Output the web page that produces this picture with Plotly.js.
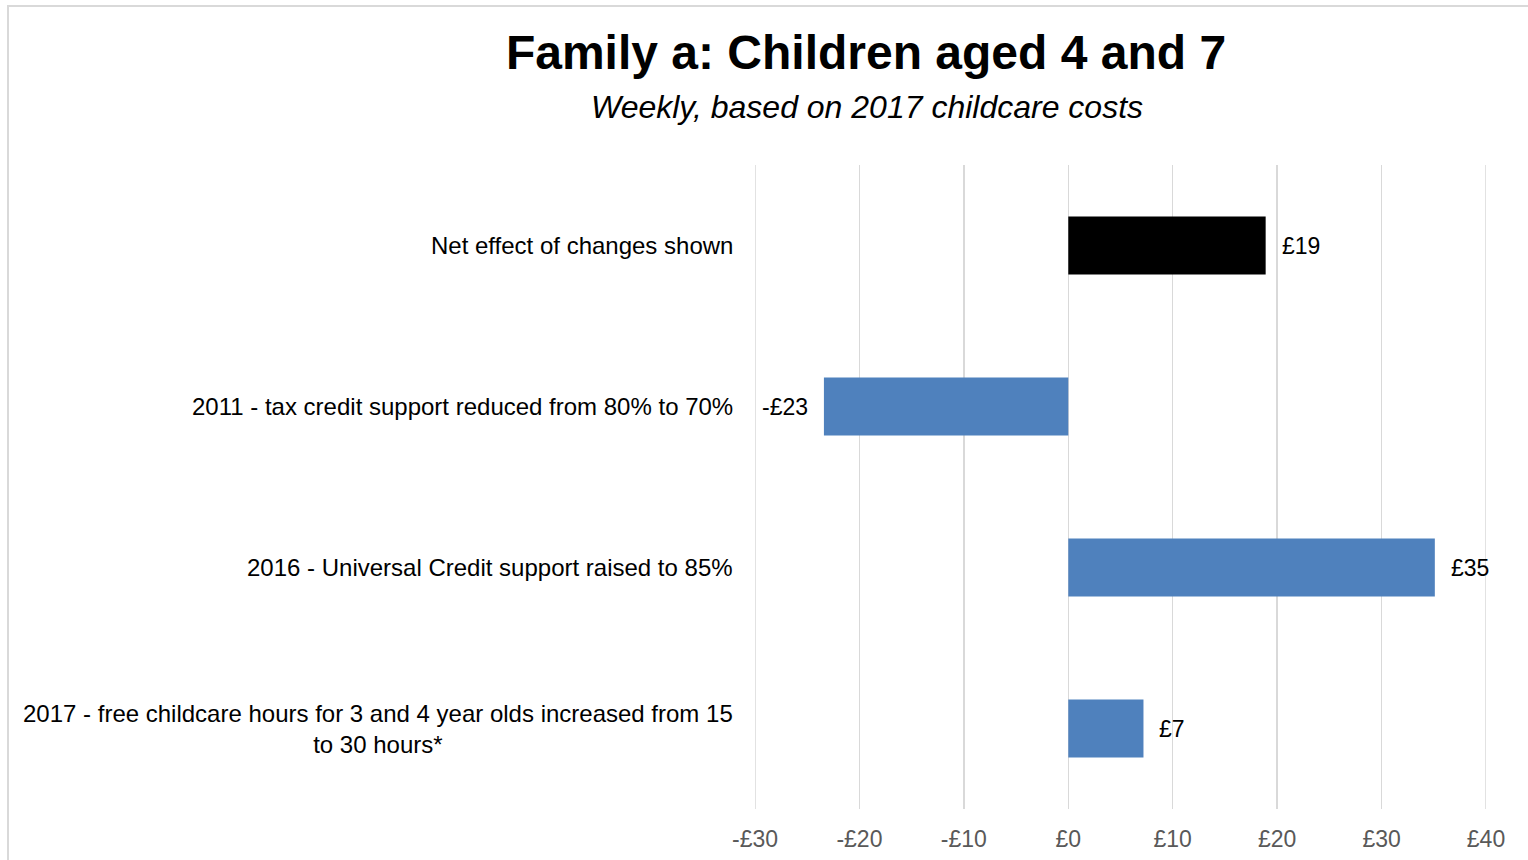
<!DOCTYPE html>
<html><head><meta charset="utf-8">
<script src="https://cdn.plot.ly/plotly-3.0.1.min.js"></script>
<style>body{margin:0;background:#fff}#c{width:1528px;height:860px}</style>
</head><body><div id="c"></div>
<script>
var categories = ["Net effect of changes shown",
  "2011 - tax credit support reduced from 80% to 70%",
  "2016 - Universal Credit support raised to 85%",
  "2017 - free childcare hours for 3 and 4 year olds increased from 15<br>to 30 hours*"];
var values = [18.9, -23.4, 35.1, 7.2];
var valueLabels = ["£19", "-£23", "£35", "£7"];
var barColors = ["#000000", "#4f81bd", "#4f81bd", "#4f81bd"];
var tickVals = [-30, -20, -10, 0, 10, 20, 30, 40];
var tickText = ["-£30", "-£20", "-£10", "£0", "£10", "£20", "£30", "£40"];

var FONT = "Liberation Sans, Arial, sans-serif";
var ann = [];
categories.forEach(function(c, i){
  ann.push({xref:'paper', yref:'y', x:0, y:c, xanchor:'right', yanchor:'middle',
    xshift:-20, text:c, showarrow:false, align:'center',
    font:{family:FONT, size:24, color:'#000'}});
  var pos = values[i] >= 0;
  ann.push({xref:'x', yref:'y', x:values[i], y:c, xanchor:pos?'left':'right', yanchor:'middle',
    xshift:pos?14:-14, text:valueLabels[i], showarrow:false,
    font:{family:FONT, size:23, color:'#000'}});
});
ann.push({xref:'paper', yref:'paper', x:(867-755)/731, y:(809-107)/644, xanchor:'center', yanchor:'middle',
  text:'<i>Weekly, based on 2017 childcare costs</i>', showarrow:false,
  font:{family:FONT, size:32, color:'#000'}});

var data = [{type:'bar', orientation:'h', y:categories, x:values,
  marker:{color:barColors, line:{width:0}}, hoverinfo:'none'}];

var shapes = [{type:'rect', xref:'paper', yref:'paper', x0:(8-755)/731, x1:(1540-755)/731,
    y0:(809-880)/644, y1:(809-6)/644, line:{color:'#d9d9d9', width:2}, fillcolor:'rgba(0,0,0,0)', layer:'below'}];
[tickVals[0], tickVals[tickVals.length-1]].forEach(function(v){
  shapes.push({type:'line', xref:'x', yref:'paper', x0:v, x1:v, y0:0, y1:1,
    line:{color:'#d9d9d9', width:1.5}, layer:'below'});
});

var layout = {
  width:1528, height:860,
  margin:{l:755, r:42, t:165, b:51},
  paper_bgcolor:'#fff', plot_bgcolor:'#fff',
  title:{text:'<b>Family a: Children aged 4 and 7</b>', xref:'container', yref:'container',
    x:866/1528, y:1-52/860, xanchor:'center', yanchor:'middle',
    font:{family:FONT, size:48, color:'#000'}},
  xaxis:{range:[-30,40], tickvals:tickVals, ticktext:tickText, showgrid:true,
    gridcolor:'#d9d9d9', gridwidth:1.5, zeroline:false, showline:false, ticks:'',
    ticklabelstandoff:14, tickfont:{family:FONT, size:23, color:'#595959'}, fixedrange:true},
  yaxis:{type:'category', autorange:'reversed', showticklabels:false, showgrid:false,
    zeroline:false, showline:false, ticks:''},
  bargap:0.64,
  showlegend:false,
  annotations:ann,
  shapes:shapes
};
Plotly.newPlot('c', data, layout, {displayModeBar:false, staticPlot:true});
</script></body></html>
